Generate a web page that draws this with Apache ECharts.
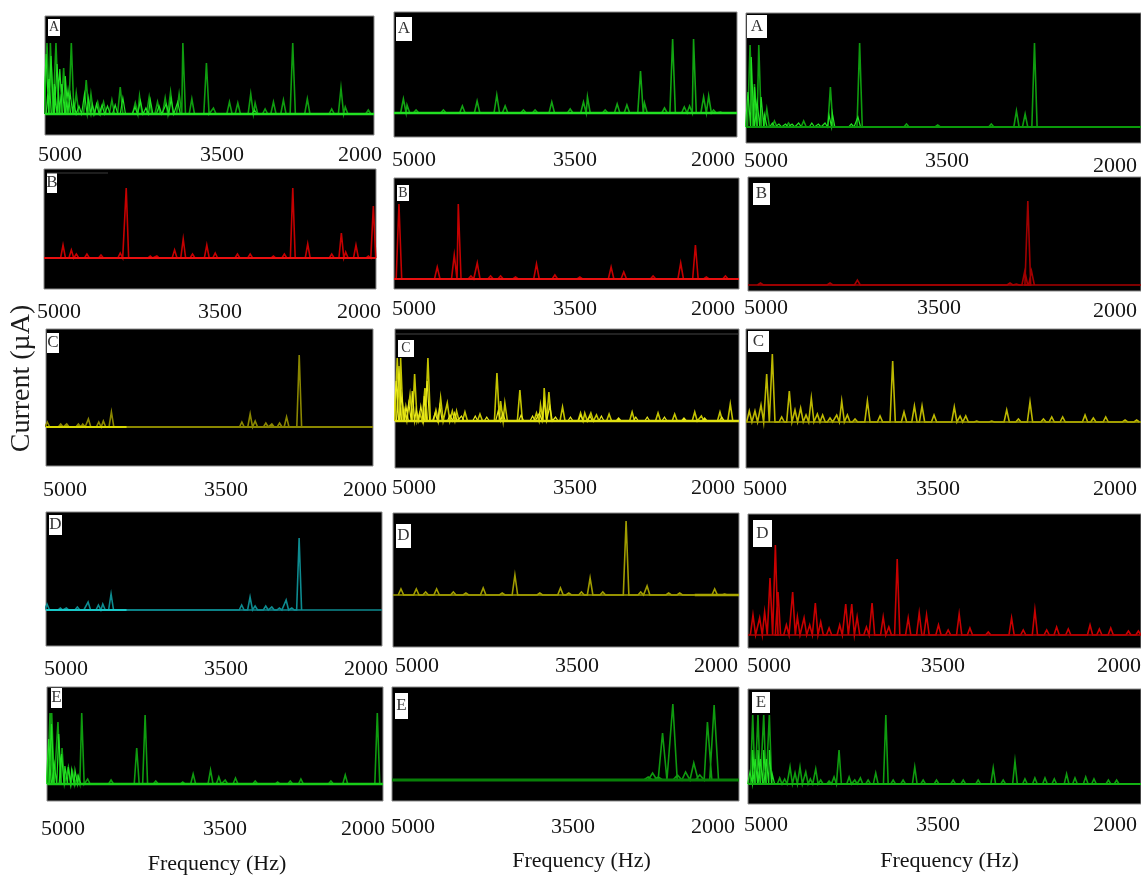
<!DOCTYPE html>
<html><head><meta charset="utf-8">
<style>html,body{margin:0;padding:0;background:#fff}#c{width:1141px;height:877px;filter:blur(0.4px)}</style>
<script src="https://cdn.jsdelivr.net/npm/echarts@6/dist/echarts.min.js"></script>
</head><body><div id="c"></div>
<script>
// Peak frequencies (Hz) and peak currents (arbitrary units, read above each panel's baseline)
const A1_freq=[4982,4951,4900,4830,4760,4715,4624,4581,4520,4466,4390,4314,4177,4138,4050,3974,3904,3855,3777,3743,3661,3528,3464,3318,3242,3124,3084,2993,2917,2826,2741,2608,2386,2301,2262,2052];
const A1_curr=[71,71,71,46,71,21,34,20,12,12,14,27,11,18,17,12,16,22,20,71,15,51,6,12,11,20,11,5,12,14,71,15,5,26,7,4];
const A1_over_freq=[4990,4965,4945,4915,4890,4865,4845,4815,4790,4770,4740,4690,4640,4605,4570,4530,4480,4430,4360,4290,4180,4130,4080,4040,3960,3895,3850,3790,3090];
const A1_over_curr=[60,35,58,30,50,45,30,38,24,20,12,8,20,16,10,10,9,8,9,16,7,13,6,14,8,10,15,12,4];
const B1_freq=[4828,4753,4708,4612,4485,4311,4257,4040,3980,3820,3742,3658,3529,3453,3252,3137,2927,2828,2752,2617,2400,2313,2274,2181,2069,2024];
const B1_curr=[13,8,4,4,3,5,70,2,2,8,19,4,13,5,4,4,2,4,70,14,4,25,6,13,2,52];
const C1_freq=[4988,4865,4810,4703,4663,4611,4516,4474,4400,3203,3127,3081,2983,2928,2857,2793,2677];
const C1_curr=[5,3,3,3,3,8,5,6,15,5,13,6,4,3,4,10,72];
const D1_freq=[4991,4872,4818,4720,4684,4624,4532,4493,4419,3253,3178,3133,3038,2984,2916,2856,2805,2740];
const D1_curr=[6,2,2,3,2,8,5,6,16,5,13,4,4,3,2,10,2,72];
const E1_freq=[4973,4958,4902,4866,4809,4771,4729,4690,4637,4428,4199,4124,4029,3990,3788,3695,3540,3466,3409,3317,3141,2941,2828,2733,2465,2337,2051];
const E1_curr=[71,71,62,36,17,12,8,71,5,4,36,69,3,2,2,10,14,7,4,6,3,2,3,5,3,9,71];
const E1_over_freq=[4985,4960,4935,4895,4870,4840,4810,4780,4750,4720];
const E1_over_curr=[45,60,20,50,30,18,17,14,14,8];
const A2_freq=[4918,4886,4807,4568,4402,4273,4101,4028,3868,3766,3620,3459,3343,3308,3153,3048,2963,2844,2809,2634,2563,2461,2415,2380,2292,2248,2205,2146];
const A2_curr=[14,8,3,3,7,12,18,7,3,3,11,4,11,16,3,9,8,42,10,5,74,6,7,74,16,17,3,1];
const B2_freq=[4957,4624,4476,4441,4331,4276,4160,4073,3943,3761,3601,3384,3112,3002,2747,2507,2379,2284,2118];
const B2_curr=[75,12,24,75,3,16,3,3,2,15,4,2,12,7,3,16,34,2,3];
const C2_freq=[4980,4951,4919,4869,4829,4785,4739,4713,4643,4602,4544,4500,4463,4390,4259,4111,4079,4042,3911,3766,3731,3699,3658,3539,3382,3345,3292,3243,3133,2932,2706,2561,2386,2328,2166,2076];
const C2_curr=[63,63,11,26,47,8,33,63,11,23,18,10,10,9,7,48,20,18,31,8,16,33,29,14,8,8,8,6,7,9,8,7,9,5,9,17];
const C2_over_freq=[4990,4965,4940,4905,4880,4850,4815,4775,4745,4720,4650,4610,4520,4480,4420,4300,4200,4100,4060,3900,3800,3740,3700,3650,3600,3470,3380,3300,3200,3050,2900,2800,2650,2480,2300,2150];
const C2_over_curr=[40,55,25,15,18,30,12,15,25,40,8,15,6,8,5,5,4,10,8,6,5,8,20,15,4,4,6,5,5,3,4,4,4,3,3,4];
const D2_freq=[4931,4798,4717,4622,4477,4368,4218,4053,3943,3727,3548,3476,3366,3291,3181,2979,2852,2797,2610,2514,2211,2125];
const D2_curr=[6,6,3,6,3,2,7,2,20,2,7,2,3,17,3,74,3,9,2,2,6,1];
const E2_freq=[2785,2747,2698,2661,2572,2532,2462,2391,2339,2273,2215];
const E2_curr=[3,7,3,47,76,5,8,17,5,58,75];
const A3_freq=[4969,4936,4903,4842,4784,4677,4562,4359,4137,3781,3544,3137,2946,2880,2809];
const A3_curr=[82,43,82,18,6,4,6,40,84,3,2,3,16,13,84];
const A3_over_freq=[4985,4960,4935,4915,4885,4860,4800,4750,4700,4650,4600,4500,4450,4400,4370,4345,4200,4150];
const A3_over_curr=[35,70,40,25,30,12,4,3,3,3,4,4,3,4,12,14,3,10];
const B3_freq=[4905,4374,4165,3000,2951,2887,2864,2836];
const B3_curr=[2,2,5,2,1,14,84,14];
const C3_freq=[4975,4932,4886,4843,4800,4729,4671,4628,4585,4544,4504,4458,4418,4362,4311,4273,4230,4172,4078,3982,3886,3800,3721,3663,3572,3418,3374,3331,3248,3134,3020,2931,2843,2741,2678,2595,2425,2362,2268,2121,2033];
const C3_curr=[11,11,17,48,68,5,31,12,14,7,24,8,7,4,7,21,7,3,21,6,61,10,16,16,7,15,6,6,1,1,12,3,20,3,5,5,7,4,5,2,2];
const D3_freq=[4962,4911,4873,4832,4791,4771,4707,4659,4623,4572,4529,4486,4445,4381,4300,4254,4208,4167,4096,4053,3968,3925,3861,3777,3693,3637,3546,3472,3388,3306,3166,2988,2899,2810,2720,2644,2555,2389,2318,2231,2096,2020];
const D3_curr=[20,17,23,57,90,43,10,43,18,17,10,32,13,7,10,31,31,18,8,32,18,8,76,17,22,20,10,5,21,7,3,17,5,25,5,8,6,10,6,7,4,4];
const E3_freq=[4964,4924,4880,4837,4758,4720,4679,4641,4603,4559,4524,4483,4445,4381,4343,4305,4228,4185,4142,4083,4025,3948,3892,3816,3727,3663,3561,3434,3357,3243,3128,3052,2962,2886,2810,2733,2662,2568,2504,2422,2359,2249,2186];
const E3_curr=[69,69,69,69,6,5,17,11,17,12,5,15,4,3,7,34,7,4,6,4,11,69,4,4,17,4,4,4,4,4,16,4,23,5,6,6,5,10,6,7,5,4,4];
const E3_over_freq=[4985,4964,4945,4924,4905,4880,4860,4837,4815];
const E3_over_curr=[12,34,25,34,25,34,25,34,10];
const tickLabels=[5000,3500,2000];

// Layout and styling of the panels (pixels, colours), kept apart from the data
const G='#0f9c0f',GB='#22e022',R='#c40000',RB='#e81010',DY='#8a8600',YB='#d8d800';
const panels=[
{n:'A',l:45,r:374,t:16,b:135,base:114,f:A1_freq,c:A1_curr,of:A1_over_freq,oc:A1_over_curr,hw:24,col:G,ocol:GB,seg:[[5000,2000,GB,2.5]],lx:[60,222,360],ly:[154,154,154],box:[48,19,12,17]},
{n:'B',l:44,r:376,t:169,b:289,base:258,f:B1_freq,c:B1_curr,hw:22,col:R,seg:[[5000,2000,RB,2]],lx:[59,220,359],ly:[311,311,311],box:[47,173,10,20]},
{n:'C',l:46,r:373,t:329,b:466,base:427,f:C1_freq,c:C1_curr,hw:22,col:DY,seg:[[4260,2000,DY,2],[5000,4260,YB,2]],lx:[65,226,365],ly:[489,489,489],box:[47,333,12,20]},
{n:'D',l:46,r:382,t:512,b:646,base:610,f:D1_freq,c:D1_curr,hw:22,col:'#0e8b90',seg:[[4280,2000,'#0e8b90',1.5],[5000,4280,'#18c8c8',2]],lx:[66,226,366],ly:[668,668,668],box:[49,515,13,20]},
{n:'E',l:47,r:383,t:687,b:801,base:784,f:E1_freq,c:E1_curr,of:E1_over_freq,oc:E1_over_curr,hw:22,col:G,ocol:GB,seg:[[5000,2000,'#18cc18',2.5]],lx:[63,225,363],ly:[828,828,828],box:[51,688,11,20]},
{n:'A',l:394,r:737,t:12,b:137,base:113,f:A2_freq,c:A2_curr,hw:24,col:'#12a412',seg:[[5000,2000,GB,2.5]],lx:[414,575,713],ly:[159,159,159],box:[396,17,16,24]},
{n:'B',l:394,r:739,t:178,b:289,base:279,f:B2_freq,c:B2_curr,hw:24,col:R,seg:[[5000,2000,RB,2]],lx:[414,575,713],ly:[308,308,308],box:[397,185,12,16]},
{n:'C',l:395,r:739,t:329,b:468,base:421,f:C2_freq,c:C2_curr,of:C2_over_freq,oc:C2_over_curr,hw:22,col:'#c4c400',ocol:'#e8e81a',seg:[[5000,2000,'#e0e010',2.5]],lx:[414,575,713],ly:[487,487,487],box:[398,340,16,17]},
{n:'D',l:393,r:739,t:513,b:647,base:595,f:D2_freq,c:D2_curr,hw:24,col:'#a09c00',seg:[[5000,2384,'#a09c00',1.4],[2384,2000,'#a8a400',2.5]],lx:[417,577,716],ly:[665,665,665],box:[396,524,15,24]},
{n:'E',l:392,r:739,t:687,b:801,base:780,f:E2_freq,c:E2_curr,hw:38,col:'#0f9a0f',seg:[[5000,2000,'#087f08',3]],lx:[413,573,713],ly:[826,826,826],box:[395,693,13,26]},
{n:'A',l:746,r:1141,t:13,b:143,base:127,f:A3_freq,c:A3_curr,of:A3_over_freq,oc:A3_over_curr,hw:20,col:G,ocol:GB,seg:[[5000,2000,'#0a9a0a',2]],lx:[766,947,1115],ly:[160,160,165],box:[747,15,20,23]},
{n:'B',l:748,r:1141,t:177,b:291,base:285,f:B3_freq,c:B3_curr,hw:22,col:'#a00000',seg:[[5000,2000,'#a80000',1.5]],lx:[766,939,1115],ly:[307,307,310],box:[753,183,17,22]},
{n:'C',l:746,r:1141,t:329,b:468,base:422,f:C3_freq,c:C3_curr,hw:20,col:'#bdb800',seg:[[5000,2000,'#a8a400',1.4]],lx:[765,938,1115],ly:[488,488,488],box:[748,331,21,21]},
{n:'D',l:748,r:1141,t:514,b:648,base:635,f:D3_freq,c:D3_curr,hw:20,col:'#c80000',seg:[[5000,2000,'#b00000',1.4]],lx:[769,943,1119],ly:[665,665,665],box:[753,520,19,27]},
{n:'E',l:748,r:1141,t:689,b:804,base:784,f:E3_freq,c:E3_curr,of:E3_over_freq,oc:E3_over_curr,hw:18,col:G,ocol:GB,seg:[[5000,2000,'#12b012',1.8]],lx:[766,938,1115],ly:[824,824,824],box:[752,692,18,21]}
];
const FONT='"Liberation Serif","Times New Roman",serif';
const TICK_SIZE=22;

// A peak goes up from the baseline and back down to it
function trace(freq,curr,hw){const out=[];freq.forEach((f,i)=>{out.push([f+hw,0],[f,curr[i]],[f-hw,0]);});return out;}

const grid=[],xAxis=[],yAxis=[],series=[],graphic=[];
panels.forEach((p,i)=>{
  grid.push({left:p.l,top:p.t,width:p.r-p.l,height:p.b-p.t,show:true,backgroundColor:'#000',borderColor:'#8a8a8a',borderWidth:1,containLabel:false,outerBoundsMode:'none'});
  const rich={};
  tickLabels.forEach((v,k)=>{
    const tick=p.l+(5000-v)/3000*(p.r-p.l), dx=p.lx[k]-tick, dy=Math.max(0,2*(p.ly[k]-p.b-10));
    rich['v'+v]={fontFamily:FONT,fontSize:TICK_SIZE,color:'#141414',lineHeight:TICK_SIZE,padding:[dy,dx<0?-2*dx:0,0,dx>0?2*dx:0]};
  });
  const x={type:'value',gridIndex:i,min:2000,max:5000,interval:500,inverse:true,
    axisLine:{show:false},axisTick:{show:false},splitLine:{show:false},
    axisLabel:{show:true,margin:0,hideOverlap:false,showMinLabel:true,showMaxLabel:true,fontFamily:FONT,fontSize:TICK_SIZE,
      formatter:v=>tickLabels.includes(v)?`{v${v}|${v}}`:'',rich}};
  if(i%5===4){
    const nameDx={4:2,9:16,14:5}[i], nameY={4:853,9:850,14:850}[i];
    Object.assign(x,{name:'Frequency (Hz)',nameLocation:'middle',nameGap:nameY-p.b,
      nameTextStyle:{fontFamily:FONT,fontSize:22,color:'#141414',padding:[0,0,0,2*nameDx]}});
  }
  xAxis.push(x);
  const y={type:'value',gridIndex:i,min:p.base-p.b,max:p.base-p.t,show:i===2,
    axisLine:{show:false},axisTick:{show:false},splitLine:{show:false},axisLabel:{show:false}};
  if(i===2)Object.assign(y,{name:'Current (µA)',nameLocation:'middle',nameGap:10,nameRotate:90,
    nameTextStyle:{fontFamily:FONT,fontSize:28,color:'#1c1c1c',padding:[0,0,0,38]}});
  yAxis.push(y);
  const line=(data,color,width)=>series.push({type:'line',xAxisIndex:i,yAxisIndex:i,data,showSymbol:false,symbol:'none',smooth:false,animation:false,silent:true,lineStyle:{color,width,join:'miter'}});
  line(trace(p.f,p.c,p.hw),p.col,1.6);
  if(p.of)line(trace(p.of,p.oc,p.hw),p.ocol,1.2);
  p.seg.forEach(s=>line([[s[0],0],[s[1],0]],s[2],s[3]));
  const [bx,by,bw,bh]=p.box;
  graphic.push({type:'rect',shape:{x:bx,y:by,width:bw,height:bh},style:{fill:'#fff'},z:50});
  graphic.push({type:'text',x:bx+bw/2,y:by+bh/2,z:51,style:{text:p.n,fill:'#333',font:`${Math.round(Math.min(bh*0.85,17))}px ${FONT}`,textAlign:'center',textVerticalAlign:'middle'}});
});
// faint strip lines left over in two panels
graphic.push({type:'line',shape:{x1:47,y1:173,x2:108,y2:173},style:{stroke:'#3a3a3a',lineWidth:1},z:50});
graphic.push({type:'line',shape:{x1:395,y1:334,x2:739,y2:334},style:{stroke:'#444',lineWidth:1},z:50});

const chart=echarts.init(document.getElementById('c'),null,{renderer:'canvas',width:1141,height:877});
chart.setOption({animation:false,backgroundColor:'#fff',grid,xAxis,yAxis,series,graphic,tooltip:{show:false},legend:{show:false}});
</script></body></html>
